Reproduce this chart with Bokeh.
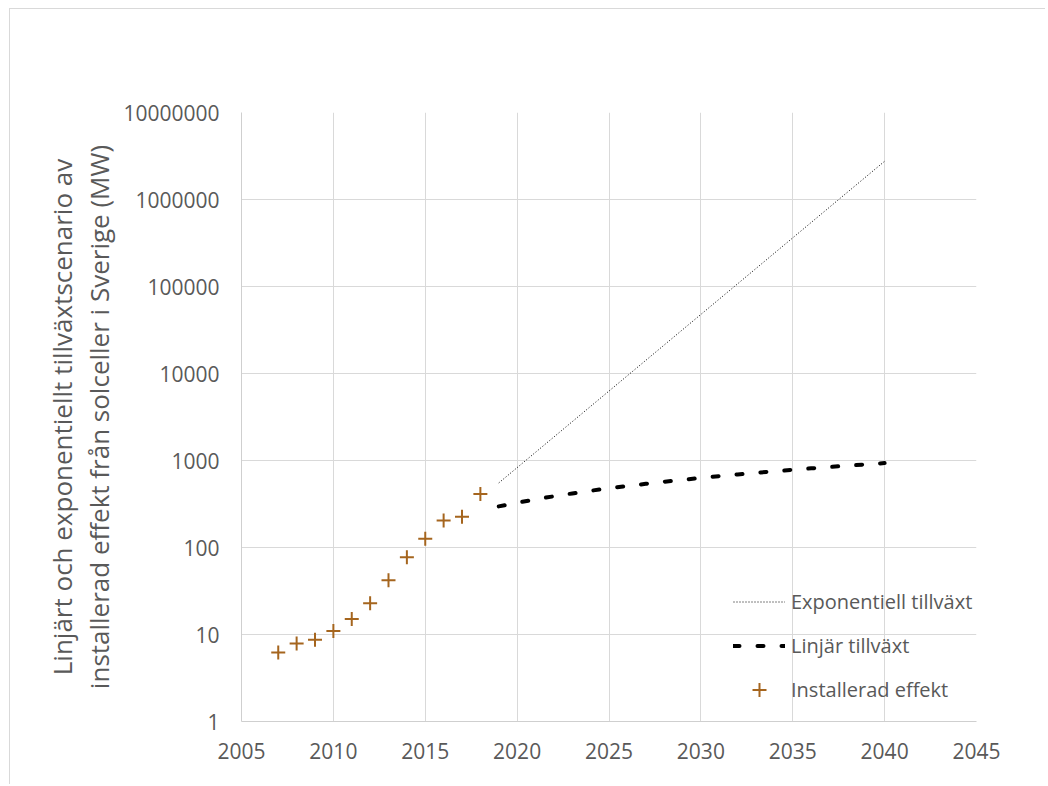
from bokeh.plotting import figure
from bokeh.models import (Range1d, FixedTicker, PrintfTickFormatter, Legend,
                          LegendItem)
from bokeh.embed import file_html
from bokeh.resources import INLINE

# Installed solar PV capacity in Sweden (MW)
installed_years = [2007, 2008, 2009, 2010, 2011, 2012, 2013, 2014, 2015, 2016, 2017, 2018]
installed_mw = [6.2, 7.9, 8.7, 11.0, 15.1, 22.9, 42.0, 77.5, 126, 204, 226, 412]

# Scenario years
scenario_years = [2019, 2020, 2021, 2022, 2023, 2024, 2025, 2026, 2027, 2028, 2029,
                  2030, 2031, 2032, 2033, 2034, 2035, 2036, 2037, 2038, 2039, 2040]

# Exponential growth scenario (MW)
exponential_mw = [552, 828, 1242, 1863, 2795, 4192, 6288, 9432, 14150, 21220, 31830,
                  47750, 71620, 107400, 161100, 241700, 362600, 543900, 815800,
                  1224000, 1836000, 2753000]

# Linear growth scenario (MW)
linear_mw = [297, 327, 358, 388, 418, 449, 479, 509, 539, 570, 600,
             630, 661, 691, 721, 752, 782, 812, 842, 873, 903, 933]

x_ticks = [2005, 2010, 2015, 2020, 2025, 2030, 2035, 2040, 2045]
y_ticks = [1, 10, 100, 1000, 10000, 100000, 1000000, 10000000]

axis_title = ("Linjärt och exponentiellt tillväxtscenario av\n"
              "installerad effekt från solceller i Sverige (MW)")

FONT = "Open Sans"
TEXT_GREY = "#595959"
GRID_GREY = "#d9d9d9"

# Chart area sits 9px in from the page corner, with a thin top/left border
p = figure(width=1036, height=776, output_backend="svg", toolbar_location=None,
           x_range=Range1d(2005, 2045), y_range=Range1d(1, 1e7), y_axis_type="log",
           min_border_left=231, min_border_right=70, min_border_top=103,
           min_border_bottom=64)
p.margin = (8, 0, 0, 9)
p.styles = {"border-top": "1px solid #d9d9d9", "border-left": "1px solid #d9d9d9"}
p.outline_line_color = None
p.background_fill_color = "white"
p.border_fill_color = "white"

# Axes
p.xaxis.ticker = FixedTicker(ticks=x_ticks)
p.yaxis.ticker = FixedTicker(ticks=y_ticks, minor_ticks=[])
p.yaxis.formatter = PrintfTickFormatter(format="%d")
for ax in (p.xaxis, p.yaxis):
    ax.axis_line_color = "#cfcfcf"
    ax.major_tick_line_color = None
    ax.minor_tick_line_color = None
    ax.major_tick_in = 0
    ax.major_tick_out = 0
    ax.minor_tick_in = 0
    ax.minor_tick_out = 0
    ax.major_label_text_font = FONT
    ax.major_label_text_font_size = "21px"
    ax.major_label_text_color = TEXT_GREY
p.xaxis.major_label_standoff = 21
p.yaxis.major_label_standoff = 22
p.yaxis.axis_label = axis_title
p.yaxis.axis_label_text_font = FONT
p.yaxis.axis_label_text_font_size = "26px"
p.yaxis.axis_label_text_font_style = "normal"
p.yaxis.axis_label_text_color = TEXT_GREY
p.yaxis.axis_label_text_line_height = 1.05
p.yaxis.axis_label_standoff = 3

# Grid
p.xgrid.ticker = FixedTicker(ticks=x_ticks)
p.ygrid.ticker = FixedTicker(ticks=y_ticks, minor_ticks=[])
p.xgrid.grid_line_color = GRID_GREY
p.ygrid.grid_line_color = GRID_GREY
p.ygrid.minor_grid_line_color = None

# Series
r_exp = p.line(scenario_years, exponential_mw, line_color="black", line_width=1,
               line_dash="1 2")
r_lin = p.line(scenario_years, linear_mw, line_color="black", line_width=4,
               line_dash="6 18", line_cap="round")
r_inst = p.scatter(installed_years, installed_mw, marker="cross", size=14,
                   line_color="#a5651e", line_width=2)

legend = Legend(items=[LegendItem(label="Exponentiell tillväxt", renderers=[r_exp]),
                       LegendItem(label="Linjär tillväxt", renderers=[r_lin]),
                       LegendItem(label="Installerad effekt", renderers=[r_inst])],
                location=(492, 14), orientation="vertical")
legend.background_fill_alpha = 0
legend.border_line_alpha = 0
legend.padding = 0
legend.margin = 0
legend.spacing = 9
legend.glyph_width = 52
legend.glyph_height = 35
legend.label_height = 35
legend.label_standoff = 6
legend.label_text_font = FONT
legend.label_text_font_size = "20px"
legend.label_text_color = TEXT_GREY
p.add_layout(legend)

open("out.html", "w").write(file_html(p, INLINE))
